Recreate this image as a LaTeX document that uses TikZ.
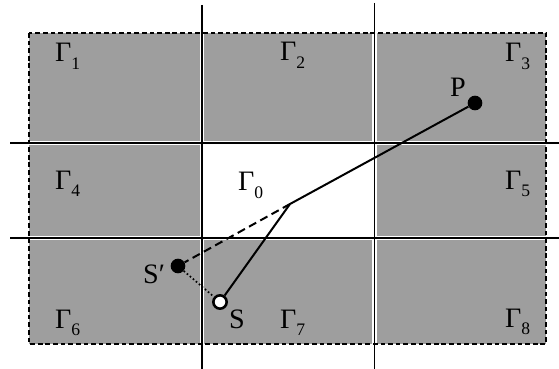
\documentclass[tikz,border=0pt]{standalone}
\usepackage{fontspec}
\setmainfont{Liberation Serif}
\newcommand{\gam}[1]{Γ\raisebox{-6pt}{\fontsize{15}{15}\selectfont #1}}

\begin{document}
\begin{tikzpicture}[x=0.03cm, y=-0.03cm,
    region/.style={fill=black!38},
    halo/.style={white, line width=3.6pt},
    border/.style={line width=1.6pt, dash pattern=on 4pt off 2.5pt},
    gridline/.style={line width=1.4pt},
    ray/.style={line width=1.7pt},
    lbl/.style={anchor=base west, inner sep=0pt, font=\fontsize{24}{28}\selectfont},
    fdot/.style={circle, fill=black, inner sep=0pt, minimum size=0.44cm},
    odot/.style={circle, draw=black, line width=2.2pt, fill=white, inner sep=0pt, minimum size=0.40cm}]
    \useasboundingbox (0,0) rectangle (559,369);

    % Regions
    \fill[region] (29,33) rectangle (546,344);
    \fill[white] (202,143) rectangle (374.5,238);
    \draw[halo] (202,5) -- (202,369) (374.5,3) -- (374.5,369)
                (10,143) -- (559,143) (10,238) -- (559,238);
    \draw[border] (29,33) rectangle (546,344);
    \draw[gridline] (202,5) -- (202,369) (374.5,3) -- (374.5,369)
                    (10,143) -- (559,143) (10,238) -- (559,238);

    % Region labels
    \node[lbl] (g1) at (55,62) {\gam{1}};
    \node[lbl] (g2) at (280,61) {\gam{2}};
    \node[lbl] (g3) at (505,62) {\gam{3}};
    \node[lbl] (g4) at (55,189) {\gam{4}};
    \node[lbl] (g0) at (238,191) {\gam{0}};
    \node[lbl] (g5) at (505,189) {\gam{5}};
    \node[lbl] (g6) at (55,328) {\gam{6}};
    \node[lbl] (g7) at (280,328) {\gam{7}};
    \node[lbl] (g8) at (505,327) {\gam{8}};

    % Points
    \node[fdot] (P) at (475,103) {};
    \node[fdot] (Sp) at (178,266) {};
    \node[odot] (S) at (220,302) {};
    \coordinate (R) at (290,204);
    \node[lbl] (lP) at (450,97) {P};
    \node[lbl] (lSp) at (143,283) {S′};
    \node[lbl] (lS) at (229,328) {S};

    % Paths
    \draw[ray] (P) -- (R) -- (S);
    \draw[ray, dash pattern=on 7pt off 4pt] (R) -- (Sp);
    \draw[line width=1.4pt, dotted] (Sp) -- (S);
\end{tikzpicture}
\end{document}
